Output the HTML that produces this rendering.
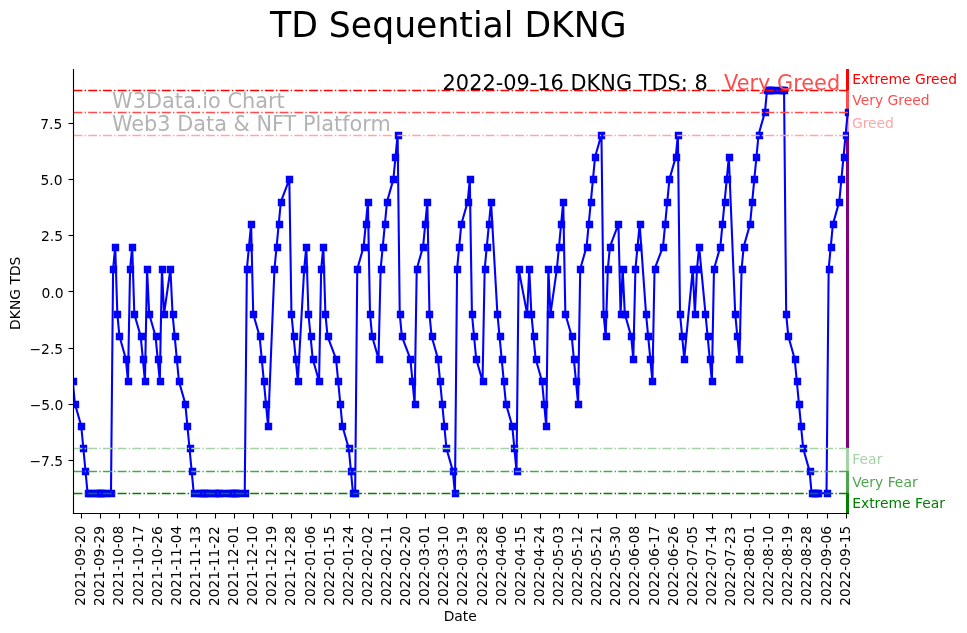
<!DOCTYPE html>
<html><head><meta charset="utf-8"><title>TD Sequential DKNG</title>
<style>html,body{margin:0;padding:0;background:#fff;width:967px;height:633px;overflow:hidden}svg{display:block;will-change:transform}</style></head>
<body>
<svg width="967" height="633" viewBox="0 0 696.24 455.76" version="1.1"> 
<defs> 
<style type="text/css">*{stroke-linejoin: round; stroke-linecap: butt}</style> 
</defs> 
<g id="figure_1"> 
<g id="patch_1"> 
<path d="M 0 455.76 
L 696.24 455.76 
L 696.24 0 
L 0 0 
z 
" style="fill: #ffffff"/> 
</g> 
<g id="axes_1"> 
<g id="patch_2"> 
<path d="M 52.38 369.7128 
L 610.38 369.7128 
L 610.38 50.0328 
L 52.38 50.0328 
z 
" style="fill: #ffffff"/> 
</g> 
<g id="matplotlib.axis_1"> 
<g id="xtick_1"> 
<g id="line2d_1"> 
<defs> 
<path id="m1504cfccaf" d="M 0 0.36 L 0 3.96" style="stroke: #000000; stroke-width: 0.8"/> 
</defs> 
<g> 
<use href="#m1504cfccaf" x="58.6800" y="369.3600" style="stroke: #000000; stroke-width: 0.8"/> 
</g> 
</g> 
<g id="tx7" transform="translate(-0.050 1.292)"> 
<text textLength="57.523" lengthAdjust="spacingAndGlyphs" style="font-size: 10px; font-family: 'DejaVu Sans', 'Liberation Sans', sans-serif" transform="translate(61.254443 434.828425) rotate(-90)">2021-09-20</text> 
</g> 
</g> 
<g id="xtick_2"> 
<g id="line2d_2"> 
<g> 
<use href="#m1504cfccaf" x="72.3600" y="369.3600" style="stroke: #000000; stroke-width: 0.8"/> 
</g> 
</g> 
<g id="tx8" transform="translate(-0.074 1.414)"> 
<text textLength="57.523" lengthAdjust="spacingAndGlyphs" style="font-size: 10px; font-family: 'DejaVu Sans', 'Liberation Sans', sans-serif" transform="translate(75.013348 434.828425) rotate(-90)">2021-09-29</text> 
</g> 
</g> 
<g id="xtick_3"> 
<g id="line2d_3"> 
<g> 
<use href="#m1504cfccaf" x="86.0400" y="369.3600" style="stroke: #000000; stroke-width: 0.8"/> 
</g> 
</g> 
<g id="tx9" transform="translate(-0.018 1.200)"> 
<text textLength="57.523" lengthAdjust="spacingAndGlyphs" style="font-size: 10px; font-family: 'DejaVu Sans', 'Liberation Sans', sans-serif" transform="translate(88.772252 434.828425) rotate(-90)">2021-10-08</text> 
</g> 
</g> 
<g id="xtick_4"> 
<g id="line2d_4"> 
<g> 
<use href="#m1504cfccaf" x="100.4400" y="369.3600" style="stroke: #000000; stroke-width: 0.8"/> 
</g> 
</g> 
<g id="tx10" transform="translate(0.700 1.133)"> 
<text textLength="57.523" lengthAdjust="spacingAndGlyphs" style="font-size: 10px; font-family: 'DejaVu Sans', 'Liberation Sans', sans-serif" transform="translate(102.531156 434.828425) rotate(-90)">2021-10-17</text> 
</g> 
</g> 
<g id="xtick_5"> 
<g id="line2d_5"> 
<g> 
<use href="#m1504cfccaf" x="114.1200" y="369.3600" style="stroke: #000000; stroke-width: 0.8"/> 
</g> 
</g> 
<g id="tx11" transform="translate(0.691 1.533)"> 
<text textLength="57.523" lengthAdjust="spacingAndGlyphs" style="font-size: 10px; font-family: 'DejaVu Sans', 'Liberation Sans', sans-serif" transform="translate(116.29006 434.828425) rotate(-90)">2021-10-26</text> 
</g> 
</g> 
<g id="xtick_6"> 
<g id="line2d_6"> 
<g> 
<use href="#m1504cfccaf" x="127.8000" y="369.3600" style="stroke: #000000; stroke-width: 0.8"/> 
</g> 
</g> 
<g id="tx12" transform="translate(-0.016 1.208)"> 
<text textLength="57.523" lengthAdjust="spacingAndGlyphs" style="font-size: 10px; font-family: 'DejaVu Sans', 'Liberation Sans', sans-serif" transform="translate(130.048964 434.828425) rotate(-90)">2021-11-04</text> 
</g> 
</g> 
<g id="xtick_7"> 
<g id="line2d_7"> 
<g> 
<use href="#m1504cfccaf" x="141.4800" y="369.3600" style="stroke: #000000; stroke-width: 0.8"/> 
</g> 
</g> 
<g id="tx13" transform="translate(-0.002 1.470)"> 
<text textLength="57.523" lengthAdjust="spacingAndGlyphs" style="font-size: 10px; font-family: 'DejaVu Sans', 'Liberation Sans', sans-serif" transform="translate(143.807868 434.828425) rotate(-90)">2021-11-13</text> 
</g> 
</g> 
<g id="xtick_8"> 
<g id="line2d_8"> 
<g> 
<use href="#m1504cfccaf" x="155.1600" y="369.3600" style="stroke: #000000; stroke-width: 0.8"/> 
</g> 
</g> 
<g id="tx14" transform="translate(-0.035 1.544)"> 
<text textLength="57.523" lengthAdjust="spacingAndGlyphs" style="font-size: 10px; font-family: 'DejaVu Sans', 'Liberation Sans', sans-serif" transform="translate(157.566772 434.828425) rotate(-90)">2021-11-22</text> 
</g> 
</g> 
<g id="xtick_9"> 
<g id="line2d_9"> 
<g> 
<use href="#m1504cfccaf" x="168.8400" y="369.3600" style="stroke: #000000; stroke-width: 0.8"/> 
</g> 
</g> 
<g id="tx15" transform="translate(-0.025 1.246)"> 
<text textLength="57.523" lengthAdjust="spacingAndGlyphs" style="font-size: 10px; font-family: 'DejaVu Sans', 'Liberation Sans', sans-serif" transform="translate(171.325676 434.828425) rotate(-90)">2021-12-01</text> 
</g> 
</g> 
<g id="xtick_10"> 
<g id="line2d_10"> 
<g> 
<use href="#m1504cfccaf" x="182.5200" y="369.3600" style="stroke: #000000; stroke-width: 0.8"/> 
</g> 
</g> 
<g id="tx16" transform="translate(-0.027 1.212)"> 
<text textLength="57.523" lengthAdjust="spacingAndGlyphs" style="font-size: 10px; font-family: 'DejaVu Sans', 'Liberation Sans', sans-serif" transform="translate(185.08458 434.828425) rotate(-90)">2021-12-10</text> 
</g> 
</g> 
<g id="xtick_11"> 
<g id="line2d_11"> 
<g> 
<use href="#m1504cfccaf" x="196.2000" y="369.3600" style="stroke: #000000; stroke-width: 0.8"/> 
</g> 
</g> 
<g id="tx17" transform="translate(-0.058 1.292)"> 
<text textLength="57.523" lengthAdjust="spacingAndGlyphs" style="font-size: 10px; font-family: 'DejaVu Sans', 'Liberation Sans', sans-serif" transform="translate(198.843485 434.828425) rotate(-90)">2021-12-19</text> 
</g> 
</g> 
<g id="xtick_12"> 
<g id="line2d_12"> 
<g> 
<use href="#m1504cfccaf" x="209.8800" y="369.3600" style="stroke: #000000; stroke-width: 0.8"/> 
</g> 
</g> 
<g id="tx18" transform="translate(-0.036 1.464)"> 
<text textLength="57.523" lengthAdjust="spacingAndGlyphs" style="font-size: 10px; font-family: 'DejaVu Sans', 'Liberation Sans', sans-serif" transform="translate(212.602389 434.828425) rotate(-90)">2021-12-28</text> 
</g> 
</g> 
<g id="xtick_13"> 
<g id="line2d_13"> 
<g> 
<use href="#m1504cfccaf" x="224.2800" y="369.3600" style="stroke: #000000; stroke-width: 0.8"/> 
</g> 
</g> 
<g id="tx19" transform="translate(0.695 1.359)"> 
<text textLength="57.523" lengthAdjust="spacingAndGlyphs" style="font-size: 10px; font-family: 'DejaVu Sans', 'Liberation Sans', sans-serif" transform="translate(226.361293 434.828425) rotate(-90)">2022-01-06</text> 
</g> 
</g> 
<g id="xtick_14"> 
<g id="line2d_14"> 
<g> 
<use href="#m1504cfccaf" x="237.9600" y="369.3600" style="stroke: #000000; stroke-width: 0.8"/> 
</g> 
</g> 
<g id="tx20" transform="translate(0.704 1.240)"> 
<text textLength="57.523" lengthAdjust="spacingAndGlyphs" style="font-size: 10px; font-family: 'DejaVu Sans', 'Liberation Sans', sans-serif" transform="translate(240.120197 434.828425) rotate(-90)">2022-01-15</text> 
</g> 
</g> 
<g id="xtick_15"> 
<g id="line2d_15"> 
<g> 
<use href="#m1504cfccaf" x="251.6400" y="369.3600" style="stroke: #000000; stroke-width: 0.8"/> 
</g> 
</g> 
<g id="tx21" transform="translate(-0.037 1.317)"> 
<text textLength="57.523" lengthAdjust="spacingAndGlyphs" style="font-size: 10px; font-family: 'DejaVu Sans', 'Liberation Sans', sans-serif" transform="translate(253.879101 434.828425) rotate(-90)">2022-01-24</text> 
</g> 
</g> 
<g id="xtick_16"> 
<g id="line2d_16"> 
<g> 
<use href="#m1504cfccaf" x="265.3200" y="369.3600" style="stroke: #000000; stroke-width: 0.8"/> 
</g> 
</g> 
<g id="tx22" transform="translate(-0.050 1.420)"> 
<text textLength="57.523" lengthAdjust="spacingAndGlyphs" style="font-size: 10px; font-family: 'DejaVu Sans', 'Liberation Sans', sans-serif" transform="translate(267.638005 434.828425) rotate(-90)">2022-02-02</text> 
</g> 
</g> 
<g id="xtick_17"> 
<g id="line2d_17"> 
<g> 
<use href="#m1504cfccaf" x="279.0000" y="369.3600" style="stroke: #000000; stroke-width: 0.8"/> 
</g> 
</g> 
<g id="tx23" transform="translate(-0.035 1.256)"> 
<text textLength="57.523" lengthAdjust="spacingAndGlyphs" style="font-size: 10px; font-family: 'DejaVu Sans', 'Liberation Sans', sans-serif" transform="translate(281.396909 434.828425) rotate(-90)">2022-02-11</text> 
</g> 
</g> 
<g id="xtick_18"> 
<g id="line2d_18"> 
<g> 
<use href="#m1504cfccaf" x="292.6800" y="369.3600" style="stroke: #000000; stroke-width: 0.8"/> 
</g> 
</g> 
<g id="tx24" transform="translate(-0.048 1.407)"> 
<text textLength="57.523" lengthAdjust="spacingAndGlyphs" style="font-size: 10px; font-family: 'DejaVu Sans', 'Liberation Sans', sans-serif" transform="translate(295.155813 434.828425) rotate(-90)">2022-02-20</text> 
</g> 
</g> 
<g id="xtick_19"> 
<g id="line2d_19"> 
<g> 
<use href="#m1504cfccaf" x="306.3600" y="369.3600" style="stroke: #000000; stroke-width: 0.8"/> 
</g> 
</g> 
<g id="tx25" transform="translate(-0.027 1.311)"> 
<text textLength="57.523" lengthAdjust="spacingAndGlyphs" style="font-size: 10px; font-family: 'DejaVu Sans', 'Liberation Sans', sans-serif" transform="translate(308.914717 434.828425) rotate(-90)">2022-03-01</text> 
</g> 
</g> 
<g id="xtick_20"> 
<g id="line2d_20"> 
<g> 
<use href="#m1504cfccaf" x="320.0400" y="369.3600" style="stroke: #000000; stroke-width: 0.8"/> 
</g> 
</g> 
<g id="tx26" transform="translate(-0.024 1.269)"> 
<text textLength="57.523" lengthAdjust="spacingAndGlyphs" style="font-size: 10px; font-family: 'DejaVu Sans', 'Liberation Sans', sans-serif" transform="translate(322.673622 434.828425) rotate(-90)">2022-03-10</text> 
</g> 
</g> 
<g id="xtick_21"> 
<g id="line2d_21"> 
<g> 
<use href="#m1504cfccaf" x="333.7200" y="369.3600" style="stroke: #000000; stroke-width: 0.8"/> 
</g> 
</g> 
<g id="tx27" transform="translate(-0.052 1.374)"> 
<text textLength="57.523" lengthAdjust="spacingAndGlyphs" style="font-size: 10px; font-family: 'DejaVu Sans', 'Liberation Sans', sans-serif" transform="translate(336.432526 434.828425) rotate(-90)">2022-03-19</text> 
</g> 
</g> 
<g id="xtick_22"> 
<g id="line2d_22"> 
<g> 
<use href="#m1504cfccaf" x="348.1200" y="369.3600" style="stroke: #000000; stroke-width: 0.8"/> 
</g> 
</g> 
<g id="tx28" transform="translate(0.677 1.518)"> 
<text textLength="57.523" lengthAdjust="spacingAndGlyphs" style="font-size: 10px; font-family: 'DejaVu Sans', 'Liberation Sans', sans-serif" transform="translate(350.19143 434.828425) rotate(-90)">2022-03-28</text> 
</g> 
</g> 
<g id="xtick_23"> 
<g id="line2d_23"> 
<g> 
<use href="#m1504cfccaf" x="361.8000" y="369.3600" style="stroke: #000000; stroke-width: 0.8"/> 
</g> 
</g> 
<g id="tx29" transform="translate(0.694 1.331)"> 
<text textLength="57.523" lengthAdjust="spacingAndGlyphs" style="font-size: 10px; font-family: 'DejaVu Sans', 'Liberation Sans', sans-serif" transform="translate(363.950334 434.828425) rotate(-90)">2022-04-06</text> 
</g> 
</g> 
<g id="xtick_24"> 
<g id="line2d_24"> 
<g> 
<use href="#m1504cfccaf" x="375.4800" y="369.3600" style="stroke: #000000; stroke-width: 0.8"/> 
</g> 
</g> 
<g id="tx30" transform="translate(-0.019 1.248)"> 
<text textLength="57.523" lengthAdjust="spacingAndGlyphs" style="font-size: 10px; font-family: 'DejaVu Sans', 'Liberation Sans', sans-serif" transform="translate(377.709238 434.828425) rotate(-90)">2022-04-15</text> 
</g> 
</g> 
<g id="xtick_25"> 
<g id="line2d_25"> 
<g> 
<use href="#m1504cfccaf" x="389.1600" y="369.3600" style="stroke: #000000; stroke-width: 0.8"/> 
</g> 
</g> 
<g id="tx31" transform="translate(-0.035 1.402)"> 
<text textLength="57.523" lengthAdjust="spacingAndGlyphs" style="font-size: 10px; font-family: 'DejaVu Sans', 'Liberation Sans', sans-serif" transform="translate(391.468142 434.828425) rotate(-90)">2022-04-24</text> 
</g> 
</g> 
<g id="xtick_26"> 
<g id="line2d_26"> 
<g> 
<use href="#m1504cfccaf" x="402.8400" y="369.3600" style="stroke: #000000; stroke-width: 0.8"/> 
</g> 
</g> 
<g id="tx32" transform="translate(-0.023 1.460)"> 
<text textLength="57.523" lengthAdjust="spacingAndGlyphs" style="font-size: 10px; font-family: 'DejaVu Sans', 'Liberation Sans', sans-serif" transform="translate(405.227046 434.828425) rotate(-90)">2022-05-03</text> 
</g> 
</g> 
<g id="xtick_27"> 
<g id="line2d_27"> 
<g> 
<use href="#m1504cfccaf" x="416.5200" y="369.3600" style="stroke: #000000; stroke-width: 0.8"/> 
</g> 
</g> 
<g id="tx33" transform="translate(-0.036 1.378)"> 
<text textLength="57.523" lengthAdjust="spacingAndGlyphs" style="font-size: 10px; font-family: 'DejaVu Sans', 'Liberation Sans', sans-serif" transform="translate(418.98595 434.828425) rotate(-90)">2022-05-12</text> 
</g> 
</g> 
<g id="xtick_28"> 
<g id="line2d_28"> 
<g> 
<use href="#m1504cfccaf" x="430.2000" y="369.3600" style="stroke: #000000; stroke-width: 0.8"/> 
</g> 
</g> 
<g id="tx34" transform="translate(-0.038 1.446)"> 
<text textLength="57.523" lengthAdjust="spacingAndGlyphs" style="font-size: 10px; font-family: 'DejaVu Sans', 'Liberation Sans', sans-serif" transform="translate(432.744854 434.828425) rotate(-90)">2022-05-21</text> 
</g> 
</g> 
<g id="xtick_29"> 
<g id="line2d_29"> 
<g> 
<use href="#m1504cfccaf" x="443.8800" y="369.3600" style="stroke: #000000; stroke-width: 0.8"/> 
</g> 
</g> 
<g id="tx35" transform="translate(-0.021 1.483)"> 
<text textLength="57.523" lengthAdjust="spacingAndGlyphs" style="font-size: 10px; font-family: 'DejaVu Sans', 'Liberation Sans', sans-serif" transform="translate(446.503759 434.828425) rotate(-90)">2022-05-30</text> 
</g> 
</g> 
<g id="xtick_30"> 
<g id="line2d_30"> 
<g> 
<use href="#m1504cfccaf" x="457.5600" y="369.3600" style="stroke: #000000; stroke-width: 0.8"/> 
</g> 
</g> 
<g id="tx36" transform="translate(-0.039 1.305)"> 
<text textLength="57.523" lengthAdjust="spacingAndGlyphs" style="font-size: 10px; font-family: 'DejaVu Sans', 'Liberation Sans', sans-serif" transform="translate(460.262663 434.828425) rotate(-90)">2022-06-08</text> 
</g> 
</g> 
<g id="xtick_31"> 
<g id="line2d_31"> 
<g> 
<use href="#m1504cfccaf" x="471.9600" y="369.3600" style="stroke: #000000; stroke-width: 0.8"/> 
</g> 
</g> 
<g id="tx37" transform="translate(0.682 1.283)"> 
<text textLength="57.523" lengthAdjust="spacingAndGlyphs" style="font-size: 10px; font-family: 'DejaVu Sans', 'Liberation Sans', sans-serif" transform="translate(474.021567 434.828425) rotate(-90)">2022-06-17</text> 
</g> 
</g> 
<g id="xtick_32"> 
<g id="line2d_32"> 
<g> 
<use href="#m1504cfccaf" x="485.6400" y="369.3600" style="stroke: #000000; stroke-width: 0.8"/> 
</g> 
</g> 
<g id="tx38" transform="translate(0.678 1.523)"> 
<text textLength="57.523" lengthAdjust="spacingAndGlyphs" style="font-size: 10px; font-family: 'DejaVu Sans', 'Liberation Sans', sans-serif" transform="translate(487.780471 434.828425) rotate(-90)">2022-06-26</text> 
</g> 
</g> 
<g id="xtick_33"> 
<g id="line2d_33"> 
<g> 
<use href="#m1504cfccaf" x="499.3200" y="369.3600" style="stroke: #000000; stroke-width: 0.8"/> 
</g> 
</g> 
<g id="tx39" transform="translate(-0.039 1.359)"> 
<text textLength="57.523" lengthAdjust="spacingAndGlyphs" style="font-size: 10px; font-family: 'DejaVu Sans', 'Liberation Sans', sans-serif" transform="translate(501.539375 434.828425) rotate(-90)">2022-07-05</text> 
</g> 
</g> 
<g id="xtick_34"> 
<g id="line2d_34"> 
<g> 
<use href="#m1504cfccaf" x="513.0000" y="369.3600" style="stroke: #000000; stroke-width: 0.8"/> 
</g> 
</g> 
<g id="tx40" transform="translate(-0.033 1.203)"> 
<text textLength="57.523" lengthAdjust="spacingAndGlyphs" style="font-size: 10px; font-family: 'DejaVu Sans', 'Liberation Sans', sans-serif" transform="translate(515.298279 434.828425) rotate(-90)">2022-07-14</text> 
</g> 
</g> 
<g id="xtick_35"> 
<g id="line2d_35"> 
<g> 
<use href="#m1504cfccaf" x="526.6800" y="369.3600" style="stroke: #000000; stroke-width: 0.8"/> 
</g> 
</g> 
<g id="tx41" transform="translate(-0.047 1.734)"> 
<text textLength="57.523" lengthAdjust="spacingAndGlyphs" style="font-size: 10px; font-family: 'DejaVu Sans', 'Liberation Sans', sans-serif" transform="translate(529.057183 434.828425) rotate(-90)">2022-07-23</text> 
</g> 
</g> 
<g id="xtick_36"> 
<g id="line2d_36"> 
<g> 
<use href="#m1504cfccaf" x="540.3600" y="369.3600" style="stroke: #000000; stroke-width: 0.8"/> 
</g> 
</g> 
<g id="tx42" transform="translate(-0.031 1.209)"> 
<text textLength="57.523" lengthAdjust="spacingAndGlyphs" style="font-size: 10px; font-family: 'DejaVu Sans', 'Liberation Sans', sans-serif" transform="translate(542.816087 434.828425) rotate(-90)">2022-08-01</text> 
</g> 
</g> 
<g id="xtick_37"> 
<g id="line2d_37"> 
<g> 
<use href="#m1504cfccaf" x="554.0400" y="369.3600" style="stroke: #000000; stroke-width: 0.8"/> 
</g> 
</g> 
<g id="tx43" transform="translate(-0.028 1.184)"> 
<text textLength="57.523" lengthAdjust="spacingAndGlyphs" style="font-size: 10px; font-family: 'DejaVu Sans', 'Liberation Sans', sans-serif" transform="translate(556.574991 434.828425) rotate(-90)">2022-08-10</text> 
</g> 
</g> 
<g id="xtick_38"> 
<g id="line2d_38"> 
<g> 
<use href="#m1504cfccaf" x="567.7200" y="369.3600" style="stroke: #000000; stroke-width: 0.8"/> 
</g> 
</g> 
<g id="tx44" transform="translate(-0.051 1.246)"> 
<text textLength="57.523" lengthAdjust="spacingAndGlyphs" style="font-size: 10px; font-family: 'DejaVu Sans', 'Liberation Sans', sans-serif" transform="translate(570.333896 434.828425) rotate(-90)">2022-08-19</text> 
</g> 
</g> 
<g id="xtick_39"> 
<g id="line2d_39"> 
<g> 
<use href="#m1504cfccaf" x="581.4000" y="369.3600" style="stroke: #000000; stroke-width: 0.8"/> 
</g> 
</g> 
<g id="tx45" transform="translate(-0.051 1.332)"> 
<text textLength="57.523" lengthAdjust="spacingAndGlyphs" style="font-size: 10px; font-family: 'DejaVu Sans', 'Liberation Sans', sans-serif" transform="translate(584.0928 434.828425) rotate(-90)">2022-08-28</text> 
</g> 
</g> 
<g id="xtick_40"> 
<g id="line2d_40"> 
<g> 
<use href="#m1504cfccaf" x="595.8000" y="369.3600" style="stroke: #000000; stroke-width: 0.8"/> 
</g> 
</g> 
<g id="tx46" transform="translate(0.668 1.378)"> 
<text textLength="57.523" lengthAdjust="spacingAndGlyphs" style="font-size: 10px; font-family: 'DejaVu Sans', 'Liberation Sans', sans-serif" transform="translate(597.851704 434.828425) rotate(-90)">2022-09-06</text> 
</g> 
</g> 
<g id="xtick_41"> 
<g id="line2d_41"> 
<g> 
<use href="#m1504cfccaf" x="609.4800" y="369.3600" style="stroke: #000000; stroke-width: 0.8"/> 
</g> 
</g> 
<g id="tx47" transform="translate(0.677 1.280)"> 
<text textLength="57.523" lengthAdjust="spacingAndGlyphs" style="font-size: 10px; font-family: 'DejaVu Sans', 'Liberation Sans', sans-serif" transform="translate(611.610608 434.828425) rotate(-90)">2022-09-15</text> 
</g> 
</g> 
<g id="tx6" transform="translate(0.005 0.806)"> 
<text style="font-size: 10px; font-family: 'DejaVu Sans', 'Liberation Sans', sans-serif; text-anchor: middle" x="331.38" y="446.426862" transform="rotate(-0 331.38 446.426862)">Date</text> 
</g> 
</g> 
<g id="matplotlib.axis_2"> 
<g id="ytick_1"> 
<g id="line2d_42"> 
<defs> 
<path id="m5d545ce8f8" d="M 0.36 0 L -3.24 0" style="stroke: #000000; stroke-width: 0.8"/> 
</defs> 
<g> 
<use href="#m5d545ce8f8" x="52.5600" y="331.5600" style="stroke: #000000; stroke-width: 0.8"/> 
</g> 
</g> 
<g id="tx50" transform="translate(0.083 0.898)"> 
<text style="font-size: 10px; font-family: 'DejaVu Sans', 'Liberation Sans', sans-serif; text-anchor: end" x="45.38" y="334.762928" transform="rotate(-0 45.38 334.762928)">−7.5</text> 
</g> 
</g> 
<g id="ytick_2"> 
<g id="line2d_43"> 
<g> 
<use href="#m5d545ce8f8" x="52.5600" y="291.2400" style="stroke: #000000; stroke-width: 0.8"/> 
</g> 
</g> 
<g id="tx51" transform="translate(0.250 0.887)"> 
<text style="font-size: 10px; font-family: 'DejaVu Sans', 'Liberation Sans', sans-serif; text-anchor: end" x="45.38" y="294.399291" transform="rotate(-0 45.38 294.399291)">−5.0</text> 
</g> 
</g> 
<g id="ytick_3"> 
<g id="line2d_44"> 
<g> 
<use href="#m5d545ce8f8" x="52.5600" y="250.9200" style="stroke: #000000; stroke-width: 0.8"/> 
</g> 
</g> 
<g id="tx52" transform="translate(0.123 0.798)"> 
<text style="font-size: 10px; font-family: 'DejaVu Sans', 'Liberation Sans', sans-serif; text-anchor: end" x="45.38" y="254.035655" transform="rotate(-0 45.38 254.035655)">−2.5</text> 
</g> 
</g> 
<g id="ytick_4"> 
<g id="line2d_45"> 
<g> 
<use href="#m5d545ce8f8" x="52.5600" y="209.8800" style="stroke: #000000; stroke-width: 0.8"/> 
</g> 
</g> 
<g id="tx53" transform="translate(0.389 0.908)"> 
<text style="font-size: 10px; font-family: 'DejaVu Sans', 'Liberation Sans', sans-serif; text-anchor: end" x="45.38" y="213.672019" transform="rotate(-0 45.38 213.672019)">0.0</text> 
</g> 
</g> 
<g id="ytick_5"> 
<g id="line2d_46"> 
<g> 
<use href="#m5d545ce8f8" x="52.5600" y="169.5600" style="stroke: #000000; stroke-width: 0.8"/> 
</g> 
</g> 
<g id="tx54" transform="translate(-0.032 0.104)"> 
<text style="font-size: 10px; font-family: 'DejaVu Sans', 'Liberation Sans', sans-serif; text-anchor: end" x="45.38" y="173.308382" transform="rotate(-0 45.38 173.308382)">2.5</text> 
</g> 
</g> 
<g id="ytick_6"> 
<g id="line2d_47"> 
<g> 
<use href="#m5d545ce8f8" x="52.5600" y="129.2400" style="stroke: #000000; stroke-width: 0.8"/> 
</g> 
</g> 
<g id="tx55" transform="translate(-0.352 0.200)"> 
<text style="font-size: 10px; font-family: 'DejaVu Sans', 'Liberation Sans', sans-serif; text-anchor: end" x="45.38" y="132.944746" transform="rotate(-0 45.38 132.944746)">5.0</text> 
</g> 
</g> 
<g id="ytick_7"> 
<g id="line2d_48"> 
<g> 
<use href="#m5d545ce8f8" x="52.5600" y="88.9200" style="stroke: #000000; stroke-width: 0.8"/> 
</g> 
</g> 
<g id="tx56" transform="translate(-0.531 0.214)"> 
<text style="font-size: 10px; font-family: 'DejaVu Sans', 'Liberation Sans', sans-serif; text-anchor: end" x="45.38" y="92.58111" transform="rotate(-0 45.38 92.58111)">7.5</text> 
</g> 
</g> 
<g id="tx48" transform="translate(-0.697 1.278)"> 
<text style="font-size: 10px; font-family: 'DejaVu Sans', 'Liberation Sans', sans-serif; text-anchor: middle" x="15.0175" y="209.8728" transform="rotate(-90 15.0175 209.8728)">DKNG TDS</text> 
</g> 
</g> 
<g id="line2d_49"> 
<path d="M 610.2 369.36 
L 610.2 354.96 
" style="fill: none; stroke: #008000; stroke-width: 2.16"/> 
</g> 
<g id="line2d_50"> 
<path d="M 610.2 354.96 
L 610.2 339.12 
" style="fill: none; stroke: #4da64d; stroke-width: 2.16"/> 
</g> 
<g id="line2d_51"> 
<path d="M 610.2 339.12 
L 610.2 322.56 
" style="fill: none; stroke: #a6d3a6; stroke-width: 2.16"/> 
</g> 
<g id="line2d_52"> 
<path d="M 610.2 322.56 
L 610.2 97.2 
" style="fill: none; stroke: #800080; stroke-width: 2.16"/> 
</g> 
<g id="line2d_53"> 
<path d="M 610.2 97.2 
L 610.2 80.64 
" style="fill: none; stroke: #ffa6a6; stroke-width: 2.16"/> 
</g> 
<g id="line2d_54"> 
<path d="M 610.2 80.64 
L 610.2 64.8 
" style="fill: none; stroke: #ff4d4d; stroke-width: 2.16"/> 
</g> 
<g id="line2d_55"> 
<path d="M 610.2 64.8 
L 610.2 49.68 
" style="fill: none; stroke: #ff0000; stroke-width: 2.16"/> 
</g> 
<g id="data"> 
<path d="M 52.38 274.454618 
L 53.908767 290.600073 
L 58.495068 306.745527 
L 63.08137 355.181891 
L 79.897808 355.181891 
L 81.426575 193.727345 
L 82.955342 177.581891 
L 84.48411 226.018255 
L 86.012877 242.163709 
L 90.599178 258.309164 
L 92.127945 274.454618 
L 93.656712 193.727345 
L 95.185479 177.581891 
L 96.714247 226.018255 
L 101.300548 242.163709 
L 104.358082 274.454618 
L 105.886849 193.727345 
L 107.415616 226.018255 
L 112.001918 242.163709 
L 115.059452 274.454618 
L 116.588219 193.727345 
L 118.116986 226.018255 
L 122.703288 193.727345 
L 124.232055 226.018255 
L 128.818356 274.454618 
L 133.404658 290.600073 
L 139.519726 355.181891 
L 176.210137 355.181891 
L 177.738904 193.727345 
L 180.796438 161.436436 
L 182.325205 226.018255 
L 186.911507 242.163709 
L 193.026575 306.745527 
L 197.612877 193.727345 
L 202.199178 145.290982 
L 208.314247 129.145527 
L 209.843014 226.018255 
L 214.429315 274.454618 
L 219.015616 193.727345 
L 220.544384 177.581891 
L 222.073151 226.018255 
L 225.130685 258.309164 
L 229.716986 274.454618 
L 231.245753 193.727345 
L 232.774521 177.581891 
L 234.303288 226.018255 
L 235.832055 242.163709 
L 241.947123 258.309164 
L 246.533425 306.745527 
L 251.119726 322.890982 
L 254.17726 355.181891 
L 255.706027 355.181891 
L 257.234795 193.727345 
L 261.821096 177.581891 
L 264.87863 145.290982 
L 266.407397 226.018255 
L 267.936164 242.163709 
L 272.522466 258.309164 
L 274.051233 193.727345 
L 278.637534 145.290982 
L 283.223836 129.145527 
L 286.28137 96.854618 
L 287.810137 226.018255 
L 289.338904 242.163709 
L 295.453973 258.309164 
L 298.511507 290.600073 
L 300.040274 193.727345 
L 304.626575 177.581891 
L 307.68411 145.290982 
L 309.212877 226.018255 
L 310.741644 242.163709 
L 315.327945 258.309164 
L 321.443014 322.890982 
L 326.029315 339.036436 
L 327.558082 355.181891 
L 329.086849 193.727345 
L 332.144384 161.436436 
L 336.730685 145.290982 
L 338.259452 129.145527 
L 339.788219 226.018255 
L 342.845753 258.309164 
L 347.432055 274.454618 
L 348.960822 193.727345 
L 353.547123 145.290982 
L 358.133425 226.018255 
L 364.248493 290.600073 
L 368.834795 306.745527 
L 371.892329 339.036436 
L 373.421096 193.727345 
L 379.536164 226.018255 
L 381.064932 193.727345 
L 382.593699 226.018255 
L 385.651233 258.309164 
L 390.237534 274.454618 
L 393.295068 306.745527 
L 394.823836 193.727345 
L 396.352603 226.018255 
L 400.938904 193.727345 
L 405.525205 145.290982 
L 407.053973 226.018255 
L 411.640274 242.163709 
L 416.226575 290.600073 
L 417.755342 193.727345 
L 422.341644 177.581891 
L 428.456712 113.000073 
L 433.043014 96.854618 
L 434.571781 226.018255 
L 436.100548 242.163709 
L 437.629315 193.727345 
L 439.158082 177.581891 
L 445.273151 161.436436 
L 446.801918 226.018255 
L 448.330685 193.727345 
L 449.859452 226.018255 
L 454.445753 242.163709 
L 455.974521 258.309164 
L 457.503288 193.727345 
L 460.560822 161.436436 
L 465.147123 226.018255 
L 469.733425 274.454618 
L 471.262192 193.727345 
L 477.37726 177.581891 
L 481.963562 129.145527 
L 486.549863 113.000073 
L 488.07863 96.854618 
L 489.607397 226.018255 
L 492.664932 258.309164 
L 498.78 193.727345 
L 500.308767 226.018255 
L 501.837534 193.727345 
L 503.366301 177.581891 
L 512.538904 274.454618 
L 514.067671 193.727345 
L 518.653973 177.581891 
L 524.769041 113.000073 
L 529.355342 226.018255 
L 532.412877 258.309164 
L 533.941644 193.727345 
L 535.470411 177.581891 
L 540.056712 161.436436 
L 546.171781 96.854618 
L 550.758082 80.709164 
L 552.286849 64.563709 
L 564.516986 64.563709 
L 566.045753 226.018255 
L 567.574521 242.163709 
L 572.160822 258.309164 
L 578.27589 322.890982 
L 582.862192 339.036436 
L 584.390959 355.181891 
L 595.092329 355.181891 
L 596.621096 193.727345 
L 599.67863 161.436436 
L 604.264932 145.290982 
L 610.38 80.709164 
L 610.38 80.709164 
" clip-path="url(#p4c6901e68a)" style="fill: none; stroke: #0000ff; stroke-width: 1.5; stroke-linecap: square"/> 
<defs> 
<path id="m37ec85cc8b" d="M -2.16 2.16 L 2.16 2.16 L 2.16 -2.16 L -2.16 -2.16 z" style="stroke: #0000ff; stroke-linejoin: miter"/> 
</defs> 
<g clip-path="url(#p4c6901e68a)"> 
<use href="#m37ec85cc8b" x="52.9200" y="274.6800" style="fill: #0000ff; stroke: #0000ff; stroke-linejoin: miter"/> 
<use href="#m37ec85cc8b" x="54.3600" y="291.2400" style="fill: #0000ff; stroke: #0000ff; stroke-linejoin: miter"/> 
<use href="#m37ec85cc8b" x="58.6800" y="307.0800" style="fill: #0000ff; stroke: #0000ff; stroke-linejoin: miter"/> 
<use href="#m37ec85cc8b" x="60.1200" y="322.9200" style="fill: #0000ff; stroke: #0000ff; stroke-linejoin: miter"/> 
<use href="#m37ec85cc8b" x="61.5600" y="339.4800" style="fill: #0000ff; stroke: #0000ff; stroke-linejoin: miter"/> 
<use href="#m37ec85cc8b" x="63.7200" y="355.3200" style="fill: #0000ff; stroke: #0000ff; stroke-linejoin: miter"/> 
<use href="#m37ec85cc8b" x="65.1600" y="355.3200" style="fill: #0000ff; stroke: #0000ff; stroke-linejoin: miter"/> 
<use href="#m37ec85cc8b" x="69.4800" y="355.3200" style="fill: #0000ff; stroke: #0000ff; stroke-linejoin: miter"/> 
<use href="#m37ec85cc8b" x="70.9200" y="355.3200" style="fill: #0000ff; stroke: #0000ff; stroke-linejoin: miter"/> 
<use href="#m37ec85cc8b" x="72.3600" y="355.3200" style="fill: #0000ff; stroke: #0000ff; stroke-linejoin: miter"/> 
<use href="#m37ec85cc8b" x="73.8000" y="355.3200" style="fill: #0000ff; stroke: #0000ff; stroke-linejoin: miter"/> 
<use href="#m37ec85cc8b" x="75.9600" y="355.3200" style="fill: #0000ff; stroke: #0000ff; stroke-linejoin: miter"/> 
<use href="#m37ec85cc8b" x="80.2800" y="355.3200" style="fill: #0000ff; stroke: #0000ff; stroke-linejoin: miter"/> 
<use href="#m37ec85cc8b" x="81.7200" y="194.0400" style="fill: #0000ff; stroke: #0000ff; stroke-linejoin: miter"/> 
<use href="#m37ec85cc8b" x="83.1600" y="178.2000" style="fill: #0000ff; stroke: #0000ff; stroke-linejoin: miter"/> 
<use href="#m37ec85cc8b" x="84.6000" y="226.4400" style="fill: #0000ff; stroke: #0000ff; stroke-linejoin: miter"/> 
<use href="#m37ec85cc8b" x="86.0400" y="242.2800" style="fill: #0000ff; stroke: #0000ff; stroke-linejoin: miter"/> 
<use href="#m37ec85cc8b" x="91.0800" y="258.8400" style="fill: #0000ff; stroke: #0000ff; stroke-linejoin: miter"/> 
<use href="#m37ec85cc8b" x="92.5200" y="274.6800" style="fill: #0000ff; stroke: #0000ff; stroke-linejoin: miter"/> 
<use href="#m37ec85cc8b" x="93.9600" y="194.0400" style="fill: #0000ff; stroke: #0000ff; stroke-linejoin: miter"/> 
<use href="#m37ec85cc8b" x="95.4000" y="178.2000" style="fill: #0000ff; stroke: #0000ff; stroke-linejoin: miter"/> 
<use href="#m37ec85cc8b" x="96.8400" y="226.4400" style="fill: #0000ff; stroke: #0000ff; stroke-linejoin: miter"/> 
<use href="#m37ec85cc8b" x="101.8800" y="242.2800" style="fill: #0000ff; stroke: #0000ff; stroke-linejoin: miter"/> 
<use href="#m37ec85cc8b" x="103.3200" y="258.8400" style="fill: #0000ff; stroke: #0000ff; stroke-linejoin: miter"/> 
<use href="#m37ec85cc8b" x="104.7600" y="274.6800" style="fill: #0000ff; stroke: #0000ff; stroke-linejoin: miter"/> 
<use href="#m37ec85cc8b" x="106.2000" y="194.0400" style="fill: #0000ff; stroke: #0000ff; stroke-linejoin: miter"/> 
<use href="#m37ec85cc8b" x="107.6400" y="226.4400" style="fill: #0000ff; stroke: #0000ff; stroke-linejoin: miter"/> 
<use href="#m37ec85cc8b" x="112.6800" y="242.2800" style="fill: #0000ff; stroke: #0000ff; stroke-linejoin: miter"/> 
<use href="#m37ec85cc8b" x="114.1200" y="258.8400" style="fill: #0000ff; stroke: #0000ff; stroke-linejoin: miter"/> 
<use href="#m37ec85cc8b" x="115.5600" y="274.6800" style="fill: #0000ff; stroke: #0000ff; stroke-linejoin: miter"/> 
<use href="#m37ec85cc8b" x="117.0000" y="194.0400" style="fill: #0000ff; stroke: #0000ff; stroke-linejoin: miter"/> 
<use href="#m37ec85cc8b" x="118.4400" y="226.4400" style="fill: #0000ff; stroke: #0000ff; stroke-linejoin: miter"/> 
<use href="#m37ec85cc8b" x="122.7600" y="194.0400" style="fill: #0000ff; stroke: #0000ff; stroke-linejoin: miter"/> 
<use href="#m37ec85cc8b" x="124.9200" y="226.4400" style="fill: #0000ff; stroke: #0000ff; stroke-linejoin: miter"/> 
<use href="#m37ec85cc8b" x="126.3600" y="242.2800" style="fill: #0000ff; stroke: #0000ff; stroke-linejoin: miter"/> 
<use href="#m37ec85cc8b" x="127.8000" y="258.8400" style="fill: #0000ff; stroke: #0000ff; stroke-linejoin: miter"/> 
<use href="#m37ec85cc8b" x="129.2400" y="274.6800" style="fill: #0000ff; stroke: #0000ff; stroke-linejoin: miter"/> 
<use href="#m37ec85cc8b" x="133.5600" y="291.2400" style="fill: #0000ff; stroke: #0000ff; stroke-linejoin: miter"/> 
<use href="#m37ec85cc8b" x="135.0000" y="307.0800" style="fill: #0000ff; stroke: #0000ff; stroke-linejoin: miter"/> 
<use href="#m37ec85cc8b" x="137.1600" y="322.9200" style="fill: #0000ff; stroke: #0000ff; stroke-linejoin: miter"/> 
<use href="#m37ec85cc8b" x="138.6000" y="339.4800" style="fill: #0000ff; stroke: #0000ff; stroke-linejoin: miter"/> 
<use href="#m37ec85cc8b" x="140.0400" y="355.3200" style="fill: #0000ff; stroke: #0000ff; stroke-linejoin: miter"/> 
<use href="#m37ec85cc8b" x="144.3600" y="355.3200" style="fill: #0000ff; stroke: #0000ff; stroke-linejoin: miter"/> 
<use href="#m37ec85cc8b" x="145.8000" y="355.3200" style="fill: #0000ff; stroke: #0000ff; stroke-linejoin: miter"/> 
<use href="#m37ec85cc8b" x="147.2400" y="355.3200" style="fill: #0000ff; stroke: #0000ff; stroke-linejoin: miter"/> 
<use href="#m37ec85cc8b" x="149.4000" y="355.3200" style="fill: #0000ff; stroke: #0000ff; stroke-linejoin: miter"/> 
<use href="#m37ec85cc8b" x="150.8400" y="355.3200" style="fill: #0000ff; stroke: #0000ff; stroke-linejoin: miter"/> 
<use href="#m37ec85cc8b" x="155.1600" y="355.3200" style="fill: #0000ff; stroke: #0000ff; stroke-linejoin: miter"/> 
<use href="#m37ec85cc8b" x="156.6000" y="355.3200" style="fill: #0000ff; stroke: #0000ff; stroke-linejoin: miter"/> 
<use href="#m37ec85cc8b" x="158.0400" y="355.3200" style="fill: #0000ff; stroke: #0000ff; stroke-linejoin: miter"/> 
<use href="#m37ec85cc8b" x="161.6400" y="355.3200" style="fill: #0000ff; stroke: #0000ff; stroke-linejoin: miter"/> 
<use href="#m37ec85cc8b" x="165.9600" y="355.3200" style="fill: #0000ff; stroke: #0000ff; stroke-linejoin: miter"/> 
<use href="#m37ec85cc8b" x="167.4000" y="355.3200" style="fill: #0000ff; stroke: #0000ff; stroke-linejoin: miter"/> 
<use href="#m37ec85cc8b" x="168.8400" y="355.3200" style="fill: #0000ff; stroke: #0000ff; stroke-linejoin: miter"/> 
<use href="#m37ec85cc8b" x="170.2800" y="355.3200" style="fill: #0000ff; stroke: #0000ff; stroke-linejoin: miter"/> 
<use href="#m37ec85cc8b" x="171.7200" y="355.3200" style="fill: #0000ff; stroke: #0000ff; stroke-linejoin: miter"/> 
<use href="#m37ec85cc8b" x="176.7600" y="355.3200" style="fill: #0000ff; stroke: #0000ff; stroke-linejoin: miter"/> 
<use href="#m37ec85cc8b" x="178.2000" y="194.0400" style="fill: #0000ff; stroke: #0000ff; stroke-linejoin: miter"/> 
<use href="#m37ec85cc8b" x="179.6400" y="178.2000" style="fill: #0000ff; stroke: #0000ff; stroke-linejoin: miter"/> 
<use href="#m37ec85cc8b" x="181.0800" y="161.6400" style="fill: #0000ff; stroke: #0000ff; stroke-linejoin: miter"/> 
<use href="#m37ec85cc8b" x="182.5200" y="226.4400" style="fill: #0000ff; stroke: #0000ff; stroke-linejoin: miter"/> 
<use href="#m37ec85cc8b" x="187.5600" y="242.2800" style="fill: #0000ff; stroke: #0000ff; stroke-linejoin: miter"/> 
<use href="#m37ec85cc8b" x="189.0000" y="258.8400" style="fill: #0000ff; stroke: #0000ff; stroke-linejoin: miter"/> 
<use href="#m37ec85cc8b" x="190.4400" y="274.6800" style="fill: #0000ff; stroke: #0000ff; stroke-linejoin: miter"/> 
<use href="#m37ec85cc8b" x="191.8800" y="291.2400" style="fill: #0000ff; stroke: #0000ff; stroke-linejoin: miter"/> 
<use href="#m37ec85cc8b" x="193.3200" y="307.0800" style="fill: #0000ff; stroke: #0000ff; stroke-linejoin: miter"/> 
<use href="#m37ec85cc8b" x="197.6400" y="194.0400" style="fill: #0000ff; stroke: #0000ff; stroke-linejoin: miter"/> 
<use href="#m37ec85cc8b" x="199.8000" y="178.2000" style="fill: #0000ff; stroke: #0000ff; stroke-linejoin: miter"/> 
<use href="#m37ec85cc8b" x="201.2400" y="161.6400" style="fill: #0000ff; stroke: #0000ff; stroke-linejoin: miter"/> 
<use href="#m37ec85cc8b" x="202.6800" y="145.8000" style="fill: #0000ff; stroke: #0000ff; stroke-linejoin: miter"/> 
<use href="#m37ec85cc8b" x="208.4400" y="129.2400" style="fill: #0000ff; stroke: #0000ff; stroke-linejoin: miter"/> 
<use href="#m37ec85cc8b" x="209.8800" y="226.4400" style="fill: #0000ff; stroke: #0000ff; stroke-linejoin: miter"/> 
<use href="#m37ec85cc8b" x="212.0400" y="242.2800" style="fill: #0000ff; stroke: #0000ff; stroke-linejoin: miter"/> 
<use href="#m37ec85cc8b" x="213.4800" y="258.8400" style="fill: #0000ff; stroke: #0000ff; stroke-linejoin: miter"/> 
<use href="#m37ec85cc8b" x="214.9200" y="274.6800" style="fill: #0000ff; stroke: #0000ff; stroke-linejoin: miter"/> 
<use href="#m37ec85cc8b" x="219.2400" y="194.0400" style="fill: #0000ff; stroke: #0000ff; stroke-linejoin: miter"/> 
<use href="#m37ec85cc8b" x="220.6800" y="178.2000" style="fill: #0000ff; stroke: #0000ff; stroke-linejoin: miter"/> 
<use href="#m37ec85cc8b" x="222.1200" y="226.4400" style="fill: #0000ff; stroke: #0000ff; stroke-linejoin: miter"/> 
<use href="#m37ec85cc8b" x="224.2800" y="242.2800" style="fill: #0000ff; stroke: #0000ff; stroke-linejoin: miter"/> 
<use href="#m37ec85cc8b" x="225.7200" y="258.8400" style="fill: #0000ff; stroke: #0000ff; stroke-linejoin: miter"/> 
<use href="#m37ec85cc8b" x="230.0400" y="274.6800" style="fill: #0000ff; stroke: #0000ff; stroke-linejoin: miter"/> 
<use href="#m37ec85cc8b" x="231.4800" y="194.0400" style="fill: #0000ff; stroke: #0000ff; stroke-linejoin: miter"/> 
<use href="#m37ec85cc8b" x="232.9200" y="178.2000" style="fill: #0000ff; stroke: #0000ff; stroke-linejoin: miter"/> 
<use href="#m37ec85cc8b" x="234.3600" y="226.4400" style="fill: #0000ff; stroke: #0000ff; stroke-linejoin: miter"/> 
<use href="#m37ec85cc8b" x="236.5200" y="242.2800" style="fill: #0000ff; stroke: #0000ff; stroke-linejoin: miter"/> 
<use href="#m37ec85cc8b" x="242.2800" y="258.8400" style="fill: #0000ff; stroke: #0000ff; stroke-linejoin: miter"/> 
<use href="#m37ec85cc8b" x="243.7200" y="274.6800" style="fill: #0000ff; stroke: #0000ff; stroke-linejoin: miter"/> 
<use href="#m37ec85cc8b" x="245.1600" y="291.2400" style="fill: #0000ff; stroke: #0000ff; stroke-linejoin: miter"/> 
<use href="#m37ec85cc8b" x="246.6000" y="307.0800" style="fill: #0000ff; stroke: #0000ff; stroke-linejoin: miter"/> 
<use href="#m37ec85cc8b" x="251.6400" y="322.9200" style="fill: #0000ff; stroke: #0000ff; stroke-linejoin: miter"/> 
<use href="#m37ec85cc8b" x="253.0800" y="339.4800" style="fill: #0000ff; stroke: #0000ff; stroke-linejoin: miter"/> 
<use href="#m37ec85cc8b" x="254.5200" y="355.3200" style="fill: #0000ff; stroke: #0000ff; stroke-linejoin: miter"/> 
<use href="#m37ec85cc8b" x="255.9600" y="355.3200" style="fill: #0000ff; stroke: #0000ff; stroke-linejoin: miter"/> 
<use href="#m37ec85cc8b" x="257.4000" y="194.0400" style="fill: #0000ff; stroke: #0000ff; stroke-linejoin: miter"/> 
<use href="#m37ec85cc8b" x="262.4400" y="178.2000" style="fill: #0000ff; stroke: #0000ff; stroke-linejoin: miter"/> 
<use href="#m37ec85cc8b" x="263.8800" y="161.6400" style="fill: #0000ff; stroke: #0000ff; stroke-linejoin: miter"/> 
<use href="#m37ec85cc8b" x="265.3200" y="145.8000" style="fill: #0000ff; stroke: #0000ff; stroke-linejoin: miter"/> 
<use href="#m37ec85cc8b" x="266.7600" y="226.4400" style="fill: #0000ff; stroke: #0000ff; stroke-linejoin: miter"/> 
<use href="#m37ec85cc8b" x="268.2000" y="242.2800" style="fill: #0000ff; stroke: #0000ff; stroke-linejoin: miter"/> 
<use href="#m37ec85cc8b" x="273.2400" y="258.8400" style="fill: #0000ff; stroke: #0000ff; stroke-linejoin: miter"/> 
<use href="#m37ec85cc8b" x="274.6800" y="194.0400" style="fill: #0000ff; stroke: #0000ff; stroke-linejoin: miter"/> 
<use href="#m37ec85cc8b" x="276.1200" y="178.2000" style="fill: #0000ff; stroke: #0000ff; stroke-linejoin: miter"/> 
<use href="#m37ec85cc8b" x="277.5600" y="161.6400" style="fill: #0000ff; stroke: #0000ff; stroke-linejoin: miter"/> 
<use href="#m37ec85cc8b" x="279.0000" y="145.8000" style="fill: #0000ff; stroke: #0000ff; stroke-linejoin: miter"/> 
<use href="#m37ec85cc8b" x="283.3200" y="129.2400" style="fill: #0000ff; stroke: #0000ff; stroke-linejoin: miter"/> 
<use href="#m37ec85cc8b" x="284.7600" y="113.4000" style="fill: #0000ff; stroke: #0000ff; stroke-linejoin: miter"/> 
<use href="#m37ec85cc8b" x="286.9200" y="97.5600" style="fill: #0000ff; stroke: #0000ff; stroke-linejoin: miter"/> 
<use href="#m37ec85cc8b" x="288.3600" y="226.4400" style="fill: #0000ff; stroke: #0000ff; stroke-linejoin: miter"/> 
<use href="#m37ec85cc8b" x="289.8000" y="242.2800" style="fill: #0000ff; stroke: #0000ff; stroke-linejoin: miter"/> 
<use href="#m37ec85cc8b" x="295.5600" y="258.8400" style="fill: #0000ff; stroke: #0000ff; stroke-linejoin: miter"/> 
<use href="#m37ec85cc8b" x="297.0000" y="274.6800" style="fill: #0000ff; stroke: #0000ff; stroke-linejoin: miter"/> 
<use href="#m37ec85cc8b" x="299.1600" y="291.2400" style="fill: #0000ff; stroke: #0000ff; stroke-linejoin: miter"/> 
<use href="#m37ec85cc8b" x="300.6000" y="194.0400" style="fill: #0000ff; stroke: #0000ff; stroke-linejoin: miter"/> 
<use href="#m37ec85cc8b" x="304.9200" y="178.2000" style="fill: #0000ff; stroke: #0000ff; stroke-linejoin: miter"/> 
<use href="#m37ec85cc8b" x="306.3600" y="161.6400" style="fill: #0000ff; stroke: #0000ff; stroke-linejoin: miter"/> 
<use href="#m37ec85cc8b" x="307.8000" y="145.8000" style="fill: #0000ff; stroke: #0000ff; stroke-linejoin: miter"/> 
<use href="#m37ec85cc8b" x="309.2400" y="226.4400" style="fill: #0000ff; stroke: #0000ff; stroke-linejoin: miter"/> 
<use href="#m37ec85cc8b" x="311.4000" y="242.2800" style="fill: #0000ff; stroke: #0000ff; stroke-linejoin: miter"/> 
<use href="#m37ec85cc8b" x="315.7200" y="258.8400" style="fill: #0000ff; stroke: #0000ff; stroke-linejoin: miter"/> 
<use href="#m37ec85cc8b" x="317.1600" y="274.6800" style="fill: #0000ff; stroke: #0000ff; stroke-linejoin: miter"/> 
<use href="#m37ec85cc8b" x="318.6000" y="291.2400" style="fill: #0000ff; stroke: #0000ff; stroke-linejoin: miter"/> 
<use href="#m37ec85cc8b" x="320.0400" y="307.0800" style="fill: #0000ff; stroke: #0000ff; stroke-linejoin: miter"/> 
<use href="#m37ec85cc8b" x="321.4800" y="322.9200" style="fill: #0000ff; stroke: #0000ff; stroke-linejoin: miter"/> 
<use href="#m37ec85cc8b" x="326.5200" y="339.4800" style="fill: #0000ff; stroke: #0000ff; stroke-linejoin: miter"/> 
<use href="#m37ec85cc8b" x="327.9600" y="355.3200" style="fill: #0000ff; stroke: #0000ff; stroke-linejoin: miter"/> 
<use href="#m37ec85cc8b" x="329.4000" y="194.0400" style="fill: #0000ff; stroke: #0000ff; stroke-linejoin: miter"/> 
<use href="#m37ec85cc8b" x="330.8400" y="178.2000" style="fill: #0000ff; stroke: #0000ff; stroke-linejoin: miter"/> 
<use href="#m37ec85cc8b" x="332.2800" y="161.6400" style="fill: #0000ff; stroke: #0000ff; stroke-linejoin: miter"/> 
<use href="#m37ec85cc8b" x="337.3200" y="145.8000" style="fill: #0000ff; stroke: #0000ff; stroke-linejoin: miter"/> 
<use href="#m37ec85cc8b" x="338.7600" y="129.2400" style="fill: #0000ff; stroke: #0000ff; stroke-linejoin: miter"/> 
<use href="#m37ec85cc8b" x="340.2000" y="226.4400" style="fill: #0000ff; stroke: #0000ff; stroke-linejoin: miter"/> 
<use href="#m37ec85cc8b" x="341.6400" y="242.2800" style="fill: #0000ff; stroke: #0000ff; stroke-linejoin: miter"/> 
<use href="#m37ec85cc8b" x="343.0800" y="258.8400" style="fill: #0000ff; stroke: #0000ff; stroke-linejoin: miter"/> 
<use href="#m37ec85cc8b" x="348.1200" y="274.6800" style="fill: #0000ff; stroke: #0000ff; stroke-linejoin: miter"/> 
<use href="#m37ec85cc8b" x="349.5600" y="194.0400" style="fill: #0000ff; stroke: #0000ff; stroke-linejoin: miter"/> 
<use href="#m37ec85cc8b" x="351.0000" y="178.2000" style="fill: #0000ff; stroke: #0000ff; stroke-linejoin: miter"/> 
<use href="#m37ec85cc8b" x="352.4400" y="161.6400" style="fill: #0000ff; stroke: #0000ff; stroke-linejoin: miter"/> 
<use href="#m37ec85cc8b" x="353.8800" y="145.8000" style="fill: #0000ff; stroke: #0000ff; stroke-linejoin: miter"/> 
<use href="#m37ec85cc8b" x="358.2000" y="226.4400" style="fill: #0000ff; stroke: #0000ff; stroke-linejoin: miter"/> 
<use href="#m37ec85cc8b" x="360.3600" y="242.2800" style="fill: #0000ff; stroke: #0000ff; stroke-linejoin: miter"/> 
<use href="#m37ec85cc8b" x="361.8000" y="258.8400" style="fill: #0000ff; stroke: #0000ff; stroke-linejoin: miter"/> 
<use href="#m37ec85cc8b" x="363.2400" y="274.6800" style="fill: #0000ff; stroke: #0000ff; stroke-linejoin: miter"/> 
<use href="#m37ec85cc8b" x="364.6800" y="291.2400" style="fill: #0000ff; stroke: #0000ff; stroke-linejoin: miter"/> 
<use href="#m37ec85cc8b" x="369.0000" y="307.0800" style="fill: #0000ff; stroke: #0000ff; stroke-linejoin: miter"/> 
<use href="#m37ec85cc8b" x="370.4400" y="322.9200" style="fill: #0000ff; stroke: #0000ff; stroke-linejoin: miter"/> 
<use href="#m37ec85cc8b" x="372.6000" y="339.4800" style="fill: #0000ff; stroke: #0000ff; stroke-linejoin: miter"/> 
<use href="#m37ec85cc8b" x="374.0400" y="194.0400" style="fill: #0000ff; stroke: #0000ff; stroke-linejoin: miter"/> 
<use href="#m37ec85cc8b" x="379.8000" y="226.4400" style="fill: #0000ff; stroke: #0000ff; stroke-linejoin: miter"/> 
<use href="#m37ec85cc8b" x="381.2400" y="194.0400" style="fill: #0000ff; stroke: #0000ff; stroke-linejoin: miter"/> 
<use href="#m37ec85cc8b" x="382.6800" y="226.4400" style="fill: #0000ff; stroke: #0000ff; stroke-linejoin: miter"/> 
<use href="#m37ec85cc8b" x="384.8400" y="242.2800" style="fill: #0000ff; stroke: #0000ff; stroke-linejoin: miter"/> 
<use href="#m37ec85cc8b" x="386.2800" y="258.8400" style="fill: #0000ff; stroke: #0000ff; stroke-linejoin: miter"/> 
<use href="#m37ec85cc8b" x="390.6000" y="274.6800" style="fill: #0000ff; stroke: #0000ff; stroke-linejoin: miter"/> 
<use href="#m37ec85cc8b" x="392.0400" y="291.2400" style="fill: #0000ff; stroke: #0000ff; stroke-linejoin: miter"/> 
<use href="#m37ec85cc8b" x="393.4800" y="307.0800" style="fill: #0000ff; stroke: #0000ff; stroke-linejoin: miter"/> 
<use href="#m37ec85cc8b" x="394.9200" y="194.0400" style="fill: #0000ff; stroke: #0000ff; stroke-linejoin: miter"/> 
<use href="#m37ec85cc8b" x="396.3600" y="226.4400" style="fill: #0000ff; stroke: #0000ff; stroke-linejoin: miter"/> 
<use href="#m37ec85cc8b" x="401.4000" y="194.0400" style="fill: #0000ff; stroke: #0000ff; stroke-linejoin: miter"/> 
<use href="#m37ec85cc8b" x="402.8400" y="178.2000" style="fill: #0000ff; stroke: #0000ff; stroke-linejoin: miter"/> 
<use href="#m37ec85cc8b" x="404.2800" y="161.6400" style="fill: #0000ff; stroke: #0000ff; stroke-linejoin: miter"/> 
<use href="#m37ec85cc8b" x="405.7200" y="145.8000" style="fill: #0000ff; stroke: #0000ff; stroke-linejoin: miter"/> 
<use href="#m37ec85cc8b" x="407.1600" y="226.4400" style="fill: #0000ff; stroke: #0000ff; stroke-linejoin: miter"/> 
<use href="#m37ec85cc8b" x="412.2000" y="242.2800" style="fill: #0000ff; stroke: #0000ff; stroke-linejoin: miter"/> 
<use href="#m37ec85cc8b" x="413.6400" y="258.8400" style="fill: #0000ff; stroke: #0000ff; stroke-linejoin: miter"/> 
<use href="#m37ec85cc8b" x="415.0800" y="274.6800" style="fill: #0000ff; stroke: #0000ff; stroke-linejoin: miter"/> 
<use href="#m37ec85cc8b" x="416.5200" y="291.2400" style="fill: #0000ff; stroke: #0000ff; stroke-linejoin: miter"/> 
<use href="#m37ec85cc8b" x="417.9600" y="194.0400" style="fill: #0000ff; stroke: #0000ff; stroke-linejoin: miter"/> 
<use href="#m37ec85cc8b" x="423.0000" y="178.2000" style="fill: #0000ff; stroke: #0000ff; stroke-linejoin: miter"/> 
<use href="#m37ec85cc8b" x="424.4400" y="161.6400" style="fill: #0000ff; stroke: #0000ff; stroke-linejoin: miter"/> 
<use href="#m37ec85cc8b" x="425.8800" y="145.8000" style="fill: #0000ff; stroke: #0000ff; stroke-linejoin: miter"/> 
<use href="#m37ec85cc8b" x="427.3200" y="129.2400" style="fill: #0000ff; stroke: #0000ff; stroke-linejoin: miter"/> 
<use href="#m37ec85cc8b" x="428.7600" y="113.4000" style="fill: #0000ff; stroke: #0000ff; stroke-linejoin: miter"/> 
<use href="#m37ec85cc8b" x="433.0800" y="97.5600" style="fill: #0000ff; stroke: #0000ff; stroke-linejoin: miter"/> 
<use href="#m37ec85cc8b" x="435.2400" y="226.4400" style="fill: #0000ff; stroke: #0000ff; stroke-linejoin: miter"/> 
<use href="#m37ec85cc8b" x="436.6800" y="242.2800" style="fill: #0000ff; stroke: #0000ff; stroke-linejoin: miter"/> 
<use href="#m37ec85cc8b" x="438.1200" y="194.0400" style="fill: #0000ff; stroke: #0000ff; stroke-linejoin: miter"/> 
<use href="#m37ec85cc8b" x="439.5600" y="178.2000" style="fill: #0000ff; stroke: #0000ff; stroke-linejoin: miter"/> 
<use href="#m37ec85cc8b" x="445.3200" y="161.6400" style="fill: #0000ff; stroke: #0000ff; stroke-linejoin: miter"/> 
<use href="#m37ec85cc8b" x="447.4800" y="226.4400" style="fill: #0000ff; stroke: #0000ff; stroke-linejoin: miter"/> 
<use href="#m37ec85cc8b" x="448.9200" y="194.0400" style="fill: #0000ff; stroke: #0000ff; stroke-linejoin: miter"/> 
<use href="#m37ec85cc8b" x="450.3600" y="226.4400" style="fill: #0000ff; stroke: #0000ff; stroke-linejoin: miter"/> 
<use href="#m37ec85cc8b" x="454.6800" y="242.2800" style="fill: #0000ff; stroke: #0000ff; stroke-linejoin: miter"/> 
<use href="#m37ec85cc8b" x="456.1200" y="258.8400" style="fill: #0000ff; stroke: #0000ff; stroke-linejoin: miter"/> 
<use href="#m37ec85cc8b" x="457.5600" y="194.0400" style="fill: #0000ff; stroke: #0000ff; stroke-linejoin: miter"/> 
<use href="#m37ec85cc8b" x="459.7200" y="178.2000" style="fill: #0000ff; stroke: #0000ff; stroke-linejoin: miter"/> 
<use href="#m37ec85cc8b" x="461.1600" y="161.6400" style="fill: #0000ff; stroke: #0000ff; stroke-linejoin: miter"/> 
<use href="#m37ec85cc8b" x="465.4800" y="226.4400" style="fill: #0000ff; stroke: #0000ff; stroke-linejoin: miter"/> 
<use href="#m37ec85cc8b" x="466.9200" y="242.2800" style="fill: #0000ff; stroke: #0000ff; stroke-linejoin: miter"/> 
<use href="#m37ec85cc8b" x="468.3600" y="258.8400" style="fill: #0000ff; stroke: #0000ff; stroke-linejoin: miter"/> 
<use href="#m37ec85cc8b" x="469.8000" y="274.6800" style="fill: #0000ff; stroke: #0000ff; stroke-linejoin: miter"/> 
<use href="#m37ec85cc8b" x="471.9600" y="194.0400" style="fill: #0000ff; stroke: #0000ff; stroke-linejoin: miter"/> 
<use href="#m37ec85cc8b" x="477.7200" y="178.2000" style="fill: #0000ff; stroke: #0000ff; stroke-linejoin: miter"/> 
<use href="#m37ec85cc8b" x="479.1600" y="161.6400" style="fill: #0000ff; stroke: #0000ff; stroke-linejoin: miter"/> 
<use href="#m37ec85cc8b" x="480.6000" y="145.8000" style="fill: #0000ff; stroke: #0000ff; stroke-linejoin: miter"/> 
<use href="#m37ec85cc8b" x="482.0400" y="129.2400" style="fill: #0000ff; stroke: #0000ff; stroke-linejoin: miter"/> 
<use href="#m37ec85cc8b" x="487.0800" y="113.4000" style="fill: #0000ff; stroke: #0000ff; stroke-linejoin: miter"/> 
<use href="#m37ec85cc8b" x="488.5200" y="97.5600" style="fill: #0000ff; stroke: #0000ff; stroke-linejoin: miter"/> 
<use href="#m37ec85cc8b" x="489.9600" y="226.4400" style="fill: #0000ff; stroke: #0000ff; stroke-linejoin: miter"/> 
<use href="#m37ec85cc8b" x="491.4000" y="242.2800" style="fill: #0000ff; stroke: #0000ff; stroke-linejoin: miter"/> 
<use href="#m37ec85cc8b" x="492.8400" y="258.8400" style="fill: #0000ff; stroke: #0000ff; stroke-linejoin: miter"/> 
<use href="#m37ec85cc8b" x="499.3200" y="194.0400" style="fill: #0000ff; stroke: #0000ff; stroke-linejoin: miter"/> 
<use href="#m37ec85cc8b" x="500.7600" y="226.4400" style="fill: #0000ff; stroke: #0000ff; stroke-linejoin: miter"/> 
<use href="#m37ec85cc8b" x="502.2000" y="194.0400" style="fill: #0000ff; stroke: #0000ff; stroke-linejoin: miter"/> 
<use href="#m37ec85cc8b" x="503.6400" y="178.2000" style="fill: #0000ff; stroke: #0000ff; stroke-linejoin: miter"/> 
<use href="#m37ec85cc8b" x="507.9600" y="226.4400" style="fill: #0000ff; stroke: #0000ff; stroke-linejoin: miter"/> 
<use href="#m37ec85cc8b" x="510.1200" y="242.2800" style="fill: #0000ff; stroke: #0000ff; stroke-linejoin: miter"/> 
<use href="#m37ec85cc8b" x="511.5600" y="258.8400" style="fill: #0000ff; stroke: #0000ff; stroke-linejoin: miter"/> 
<use href="#m37ec85cc8b" x="513.0000" y="274.6800" style="fill: #0000ff; stroke: #0000ff; stroke-linejoin: miter"/> 
<use href="#m37ec85cc8b" x="514.4400" y="194.0400" style="fill: #0000ff; stroke: #0000ff; stroke-linejoin: miter"/> 
<use href="#m37ec85cc8b" x="518.7600" y="178.2000" style="fill: #0000ff; stroke: #0000ff; stroke-linejoin: miter"/> 
<use href="#m37ec85cc8b" x="520.2000" y="161.6400" style="fill: #0000ff; stroke: #0000ff; stroke-linejoin: miter"/> 
<use href="#m37ec85cc8b" x="522.3600" y="145.8000" style="fill: #0000ff; stroke: #0000ff; stroke-linejoin: miter"/> 
<use href="#m37ec85cc8b" x="523.8000" y="129.2400" style="fill: #0000ff; stroke: #0000ff; stroke-linejoin: miter"/> 
<use href="#m37ec85cc8b" x="525.2400" y="113.4000" style="fill: #0000ff; stroke: #0000ff; stroke-linejoin: miter"/> 
<use href="#m37ec85cc8b" x="529.5600" y="226.4400" style="fill: #0000ff; stroke: #0000ff; stroke-linejoin: miter"/> 
<use href="#m37ec85cc8b" x="531.0000" y="242.2800" style="fill: #0000ff; stroke: #0000ff; stroke-linejoin: miter"/> 
<use href="#m37ec85cc8b" x="532.4400" y="258.8400" style="fill: #0000ff; stroke: #0000ff; stroke-linejoin: miter"/> 
<use href="#m37ec85cc8b" x="534.6000" y="194.0400" style="fill: #0000ff; stroke: #0000ff; stroke-linejoin: miter"/> 
<use href="#m37ec85cc8b" x="536.0400" y="178.2000" style="fill: #0000ff; stroke: #0000ff; stroke-linejoin: miter"/> 
<use href="#m37ec85cc8b" x="540.3600" y="161.6400" style="fill: #0000ff; stroke: #0000ff; stroke-linejoin: miter"/> 
<use href="#m37ec85cc8b" x="541.8000" y="145.8000" style="fill: #0000ff; stroke: #0000ff; stroke-linejoin: miter"/> 
<use href="#m37ec85cc8b" x="543.2400" y="129.2400" style="fill: #0000ff; stroke: #0000ff; stroke-linejoin: miter"/> 
<use href="#m37ec85cc8b" x="544.6800" y="113.4000" style="fill: #0000ff; stroke: #0000ff; stroke-linejoin: miter"/> 
<use href="#m37ec85cc8b" x="546.8400" y="97.5600" style="fill: #0000ff; stroke: #0000ff; stroke-linejoin: miter"/> 
<use href="#m37ec85cc8b" x="551.1600" y="81.0000" style="fill: #0000ff; stroke: #0000ff; stroke-linejoin: miter"/> 
<use href="#m37ec85cc8b" x="552.6000" y="65.1600" style="fill: #0000ff; stroke: #0000ff; stroke-linejoin: miter"/> 
<use href="#m37ec85cc8b" x="554.0400" y="65.1600" style="fill: #0000ff; stroke: #0000ff; stroke-linejoin: miter"/> 
<use href="#m37ec85cc8b" x="555.4800" y="65.1600" style="fill: #0000ff; stroke: #0000ff; stroke-linejoin: miter"/> 
<use href="#m37ec85cc8b" x="556.9200" y="65.1600" style="fill: #0000ff; stroke: #0000ff; stroke-linejoin: miter"/> 
<use href="#m37ec85cc8b" x="561.9600" y="65.1600" style="fill: #0000ff; stroke: #0000ff; stroke-linejoin: miter"/> 
<use href="#m37ec85cc8b" x="563.4000" y="65.1600" style="fill: #0000ff; stroke: #0000ff; stroke-linejoin: miter"/> 
<use href="#m37ec85cc8b" x="564.8400" y="65.1600" style="fill: #0000ff; stroke: #0000ff; stroke-linejoin: miter"/> 
<use href="#m37ec85cc8b" x="566.2800" y="226.4400" style="fill: #0000ff; stroke: #0000ff; stroke-linejoin: miter"/> 
<use href="#m37ec85cc8b" x="567.7200" y="242.2800" style="fill: #0000ff; stroke: #0000ff; stroke-linejoin: miter"/> 
<use href="#m37ec85cc8b" x="572.7600" y="258.8400" style="fill: #0000ff; stroke: #0000ff; stroke-linejoin: miter"/> 
<use href="#m37ec85cc8b" x="574.2000" y="274.6800" style="fill: #0000ff; stroke: #0000ff; stroke-linejoin: miter"/> 
<use href="#m37ec85cc8b" x="575.6400" y="291.2400" style="fill: #0000ff; stroke: #0000ff; stroke-linejoin: miter"/> 
<use href="#m37ec85cc8b" x="577.0800" y="307.0800" style="fill: #0000ff; stroke: #0000ff; stroke-linejoin: miter"/> 
<use href="#m37ec85cc8b" x="578.5200" y="322.9200" style="fill: #0000ff; stroke: #0000ff; stroke-linejoin: miter"/> 
<use href="#m37ec85cc8b" x="583.5600" y="339.4800" style="fill: #0000ff; stroke: #0000ff; stroke-linejoin: miter"/> 
<use href="#m37ec85cc8b" x="585.0000" y="355.3200" style="fill: #0000ff; stroke: #0000ff; stroke-linejoin: miter"/> 
<use href="#m37ec85cc8b" x="586.4400" y="355.3200" style="fill: #0000ff; stroke: #0000ff; stroke-linejoin: miter"/> 
<use href="#m37ec85cc8b" x="587.8800" y="355.3200" style="fill: #0000ff; stroke: #0000ff; stroke-linejoin: miter"/> 
<use href="#m37ec85cc8b" x="589.3200" y="355.3200" style="fill: #0000ff; stroke: #0000ff; stroke-linejoin: miter"/> 
<use href="#m37ec85cc8b" x="595.8000" y="355.3200" style="fill: #0000ff; stroke: #0000ff; stroke-linejoin: miter"/> 
<use href="#m37ec85cc8b" x="597.2400" y="194.0400" style="fill: #0000ff; stroke: #0000ff; stroke-linejoin: miter"/> 
<use href="#m37ec85cc8b" x="598.6800" y="178.2000" style="fill: #0000ff; stroke: #0000ff; stroke-linejoin: miter"/> 
<use href="#m37ec85cc8b" x="600.1200" y="161.6400" style="fill: #0000ff; stroke: #0000ff; stroke-linejoin: miter"/> 
<use href="#m37ec85cc8b" x="604.4400" y="145.8000" style="fill: #0000ff; stroke: #0000ff; stroke-linejoin: miter"/> 
<use href="#m37ec85cc8b" x="605.8800" y="129.2400" style="fill: #0000ff; stroke: #0000ff; stroke-linejoin: miter"/> 
<use href="#m37ec85cc8b" x="608.0400" y="113.4000" style="fill: #0000ff; stroke: #0000ff; stroke-linejoin: miter"/> 
<use href="#m37ec85cc8b" x="609.4800" y="97.5600" style="fill: #0000ff; stroke: #0000ff; stroke-linejoin: miter"/> 
<use href="#m37ec85cc8b" x="610.9200" y="81.0000" style="fill: #0000ff; stroke: #0000ff; stroke-linejoin: miter"/> 
</g> 
</g> 
<g id="hl0"> 
<path d="M 52.9200 65.1600 L 610.9200 65.1600" clip-path="url(#p4c6901e68a)" style="fill: none; stroke-dasharray: 6.4,1.6,1,1.6; stroke-dashoffset: 0; stroke: #ff0000"/> 
</g> 
<g id="hl1"> 
<path d="M 52.9200 81.0000 L 610.9200 81.0000" clip-path="url(#p4c6901e68a)" style="fill: none; stroke-dasharray: 6.4,1.6,1,1.6; stroke-dashoffset: 0; stroke: #ff4d4d"/> 
</g> 
<g id="hl2"> 
<path d="M 52.9200 97.5600 L 610.9200 97.5600" clip-path="url(#p4c6901e68a)" style="fill: none; stroke-dasharray: 6.4,1.6,1,1.6; stroke-dashoffset: 0; stroke: #ffa6a6"/> 
</g> 
<g id="hl3"> 
<path d="M 52.9200 322.9200 L 610.9200 322.9200" clip-path="url(#p4c6901e68a)" style="fill: none; stroke-dasharray: 6.4,1.6,1,1.6; stroke-dashoffset: 0; stroke: #a6d3a6"/> 
</g> 
<g id="hl4"> 
<path d="M 52.9200 339.4800 L 610.9200 339.4800" clip-path="url(#p4c6901e68a)" style="fill: none; stroke-dasharray: 6.4,1.6,1,1.6; stroke-dashoffset: 0; stroke: #4da64d"/> 
</g> 
<g id="hl5"> 
<path d="M 52.9200 355.3200 L 610.9200 355.3200" clip-path="url(#p4c6901e68a)" style="fill: none; stroke-dasharray: 6.4,1.6,1,1.6; stroke-dashoffset: 0; stroke: #008000"/> 
</g> 
<g id="spL"> 
<path d="M 52.9200 369.7200 L 52.9200 50.0400" style="fill: none; stroke: #000000; stroke-width: 0.8; stroke-linejoin: miter; stroke-linecap: square"/> 
</g> 
<g id="spB"> 
<path d="M 52.9200 369.7200 L 610.8840 369.7200" style="fill: none; stroke: #000000; stroke-width: 0.8; stroke-linejoin: miter; stroke-linecap: square"/> 
</g> 
<g id="tx0" transform="translate(0.225 0.787)"> 
<text style="font-size: 10px; font-family: 'DejaVu Sans', 'Liberation Sans', sans-serif; text-anchor: start; fill: #ff0000" x="613.3068" y="60.05763" transform="rotate(-0 613.3068 60.05763)">Extreme Greed</text> 
</g> 
<g id="tx1" transform="translate(0.375 0.081)"> 
<text style="font-size: 10px; font-family: 'DejaVu Sans', 'Liberation Sans', sans-serif; text-anchor: start; fill: #ff4d4d" x="613.3068" y="75.395811" transform="rotate(-0 613.3068 75.395811)">Very Greed</text> 
</g> 
<g id="tx2" transform="translate(0.047 0.422)"> 
<text style="font-size: 10px; font-family: 'DejaVu Sans', 'Liberation Sans', sans-serif; text-anchor: start; fill: #ffa6a6" x="613.3068" y="91.541266" transform="rotate(-0 613.3068 91.541266)">Greed</text> 
</g> 
<g id="tx3" transform="translate(0.398 0.208)"> 
<text style="font-size: 10px; font-family: 'DejaVu Sans', 'Liberation Sans', sans-serif; text-anchor: start; fill: #a6d3a6" x="613.3068" y="333.723084" transform="rotate(-0 613.3068 333.723084)">Fear</text> 
</g> 
<g id="tx4" transform="translate(0.394 0.842)"> 
<text style="font-size: 10px; font-family: 'DejaVu Sans', 'Liberation Sans', sans-serif; text-anchor: start; fill: #4da64d" x="613.3068" y="349.868539" transform="rotate(-0 613.3068 349.868539)">Very Fear</text> 
</g> 
<g id="tx5" transform="translate(0.278 0.880)"> 
<text style="font-size: 10px; font-family: 'DejaVu Sans', 'Liberation Sans', sans-serif; text-anchor: start; fill: #008000" x="613.3068" y="365.20672" transform="rotate(-0 613.3068 365.20672)">Extreme Fear</text> 
</g> 
</g> 
<g id="tx58" transform="translate(-0.294 0.289)"> 
<text textLength="190.936" lengthAdjust="spacingAndGlyphs" style="font-size: 15px; font-family: 'DejaVu Sans', 'Liberation Sans', sans-serif; text-anchor: start" x="318.96" y="64.44" transform="rotate(-0 318.96 64.44)">2022-09-16 DKNG TDS: 8</text> 
</g> 
<g id="tx59" transform="translate(-0.297 0.241)"> 
<text style="font-size: 15px; font-family: 'DejaVu Sans', 'Liberation Sans', sans-serif; text-anchor: start; fill: #ff4d4d" x="521.64" y="64.44" transform="rotate(-0 521.64 64.44)">Very Greed</text> 
</g> 
<g id="tx60" transform="translate(0.273 0.030)"> 
<text style="font-size: 15px; font-family: 'DejaVu Sans', 'Liberation Sans', sans-serif; text-anchor: start; fill: #b3b3b3" x="80.424" y="77.688" transform="rotate(-0 80.424 77.688)">W3Data.io Chart</text> 
</g> 
<g id="tx61" transform="translate(0.156 0.040)"> 
<text style="font-size: 15px; font-family: 'DejaVu Sans', 'Liberation Sans', sans-serif; text-anchor: start; fill: #b3b3b3" x="80.424" y="94.464" transform="rotate(-0 80.424 94.464)">Web3 Data &amp; NFT Platform</text> 
</g> 
<g id="tx62" transform="translate(0.188 0.077)"> 
<text textLength="256.731" lengthAdjust="spacingAndGlyphs" style="font-size: 25.900px; font-family: 'DejaVu Sans', 'Liberation Sans', sans-serif; text-anchor: middle" x="322.596" y="26.496" transform="rotate(-0 322.596 26.496)">TD Sequential DKNG</text> 
</g> 
</g> 
<defs> 
<clipPath id="p4c6901e68a"> 
<rect x="52.560" y="49.680" width="558.720" height="319.680"/> 
</clipPath> 
</defs> 
</svg> 

</body></html>
